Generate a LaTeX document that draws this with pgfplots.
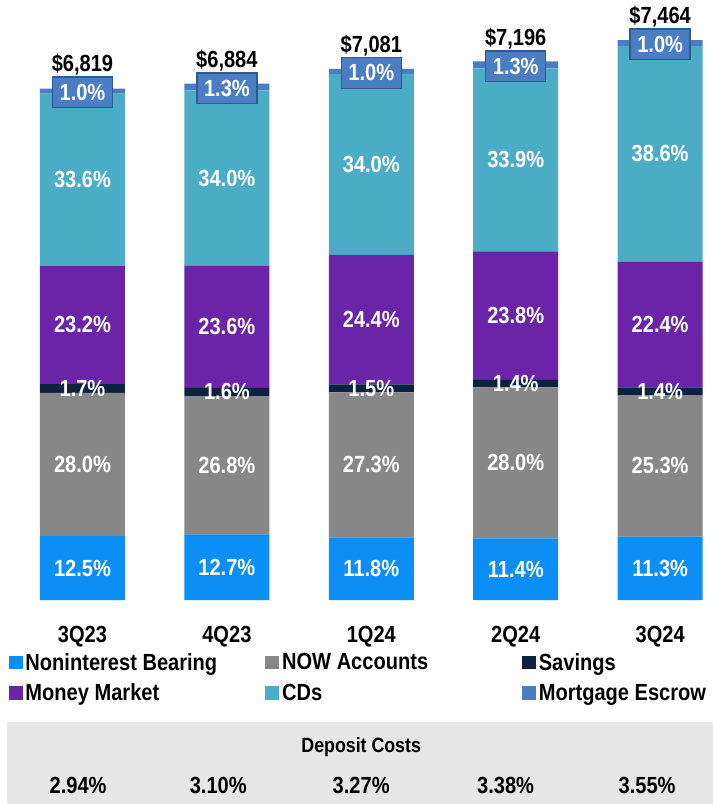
\documentclass[border=0pt]{standalone}
\usepackage{fontspec}
\setmainfont{Liberation Sans}[FakeStretch=0.86]
\usepackage{pgfplots}
\usepackage{pgfplotstable}
\pgfplotsset{compat=1.18}

\definecolor{cNB}{HTML}{0B8EF5}
\definecolor{cNOW}{HTML}{878787}
\definecolor{cSAV}{HTML}{0C2340}
\definecolor{cMM}{HTML}{6B23A8}
\definecolor{cCD}{HTML}{4BACC6}
\definecolor{cME}{HTML}{4A7DC2}
\definecolor{cMEedge}{HTML}{2F5B8C}
\definecolor{cBox}{HTML}{E6E6E6}

\newcommand{\fBar}{\fontsize{17.5}{19}\selectfont\bfseries}
\newcommand{\fBig}{\fontsize{17.5}{19}\selectfont\bfseries}
\newcommand{\pct}{\pgfmathprintnumber[fixed,precision=1,zerofill,assume math mode=true]{\pgfplotspointmeta}\%}

% segment values in $M (share x total), shares in %
\pgfplotstableread{
x nb    now    sav   mm     cd     me   pnb  pnow psav pmm  pcd  pme tot
0 852.4 1909.3 115.9 1582.0 2291.2 68.2 12.5 28.0 1.7  23.2 33.6 1.0 6819
1 874.3 1844.9 110.1 1624.6 2340.6 89.5 12.7 26.8 1.6  23.6 34.0 1.3 6884
2 835.6 1933.1 106.2 1727.8 2407.5 70.8 11.8 27.3 1.5  24.4 34.0 1.0 7081
3 820.3 2014.9 100.7 1712.6 2439.4 93.5 11.4 28.0 1.4  23.8 33.9 1.3 7196
4 843.4 1888.4 104.5 1671.9 2881.1 74.6 11.3 25.3 1.4  22.4 38.6 1.0 7464
}\deposits

\begin{document}
\begin{tikzpicture}
\begin{axis}[
  scale only axis,
  width=534.75pt, height=450pt,
  xmin=-0.571, xmax=4.366, ymin=0, ymax=8000,
  ybar stacked, bar width=63.75pt,
  axis line style={draw=none}, tick style={draw=none},
  ytick=\empty,
  xtick={0,...,4}, xticklabels={3Q23,4Q23,1Q24,2Q24,3Q24},
  xticklabel style={font=\fBig, yshift=-16pt},
  clip=false,
  point meta=explicit,
  nodes near coords={\pct},
  every node near coord/.append style={font=\fBar, text=white},
  legend columns=3,
  legend cell align=left,
  legend style={at={(0.012,-0.084)}, anchor=north west, draw=none, fill=none,
    inner sep=0pt, font=\fBig, row sep=4.5pt},
  legend image code/.code={\fill[#1] (0pt,-5pt) rectangle (10.5pt,5pt);},
]
\addplot[fill=cNB, draw=none] table[x=x, y=nb, meta=pnb]{\deposits};
\addlegendentry{\makebox[178pt][l]{Noninterest Bearing}}
\addplot[fill=cNOW, draw=none] table[x=x, y=now, meta=pnow]{\deposits};
\addlegendentry{\makebox[178pt][l]{NOW Accounts}}
\addplot[fill=cSAV, draw=none] table[x=x, y=sav, meta=psav]{\deposits};
\addlegendentry{Savings}
\addplot[fill=cMM, draw=none] table[x=x, y=mm, meta=pmm]{\deposits};
\addlegendentry{\makebox[178pt][l]{Money Market}}
\addplot[fill=cCD, draw=none] table[x=x, y=cd, meta=pcd]{\deposits};
\addlegendentry{\makebox[178pt][l]{CDs}}
% top segment: boxed share, bar total above the box
\addplot[fill=cME, draw=none,
  visualization depends on={\thisrow{tot}\as\total},
  every node near coord/.append style={fill=cME, draw=cMEedge, line width=1pt,
    minimum width=45pt, minimum height=23pt, inner sep=1pt, yshift=-1pt,
    label={[font=\fBig, text=black, inner sep=0.5pt]north:{\$\pgfmathprintnumber[fixed,precision=0,1000 sep={,},assume math mode=true]{\total}}}}]
  table[x=x, y=me, meta=pme]{\deposits};
\addlegendentry{Mortgage Escrow}

\coordinate (G1) at (axis cs:-0.52,-1627);
\coordinate (G2) at (axis cs:4.366,-2720);
\coordinate (DC) at (axis cs:1.93,-1960);
\coordinate (V0) at (axis cs:-0.03,-2475);
\coordinate (V1) at (axis cs:0.94,-2475);
\coordinate (V2) at (axis cs:1.93,-2475);
\coordinate (V3) at (axis cs:2.93,-2475);
\coordinate (V4) at (axis cs:3.91,-2475);
\coordinate (BL) at (rel axis cs:0,-0.34);
\coordinate (TR) at (rel axis cs:1,1);
\end{axis}
\fill[cBox] (G1) rectangle (G2);
\node[font=\fontsize{15.5}{17}\selectfont\bfseries, text=black] at (DC) {Deposit Costs};
\node[font=\fBig, text=black] at (V0) {2.94\%};
\node[font=\fBig, text=black] at (V1) {3.10\%};
\node[font=\fBig, text=black] at (V2) {3.27\%};
\node[font=\fBig, text=black] at (V3) {3.38\%};
\node[font=\fBig, text=black] at (V4) {3.55\%};
\pgfresetboundingbox
\path[use as bounding box] (BL) rectangle (TR);
\end{tikzpicture}
\end{document}
